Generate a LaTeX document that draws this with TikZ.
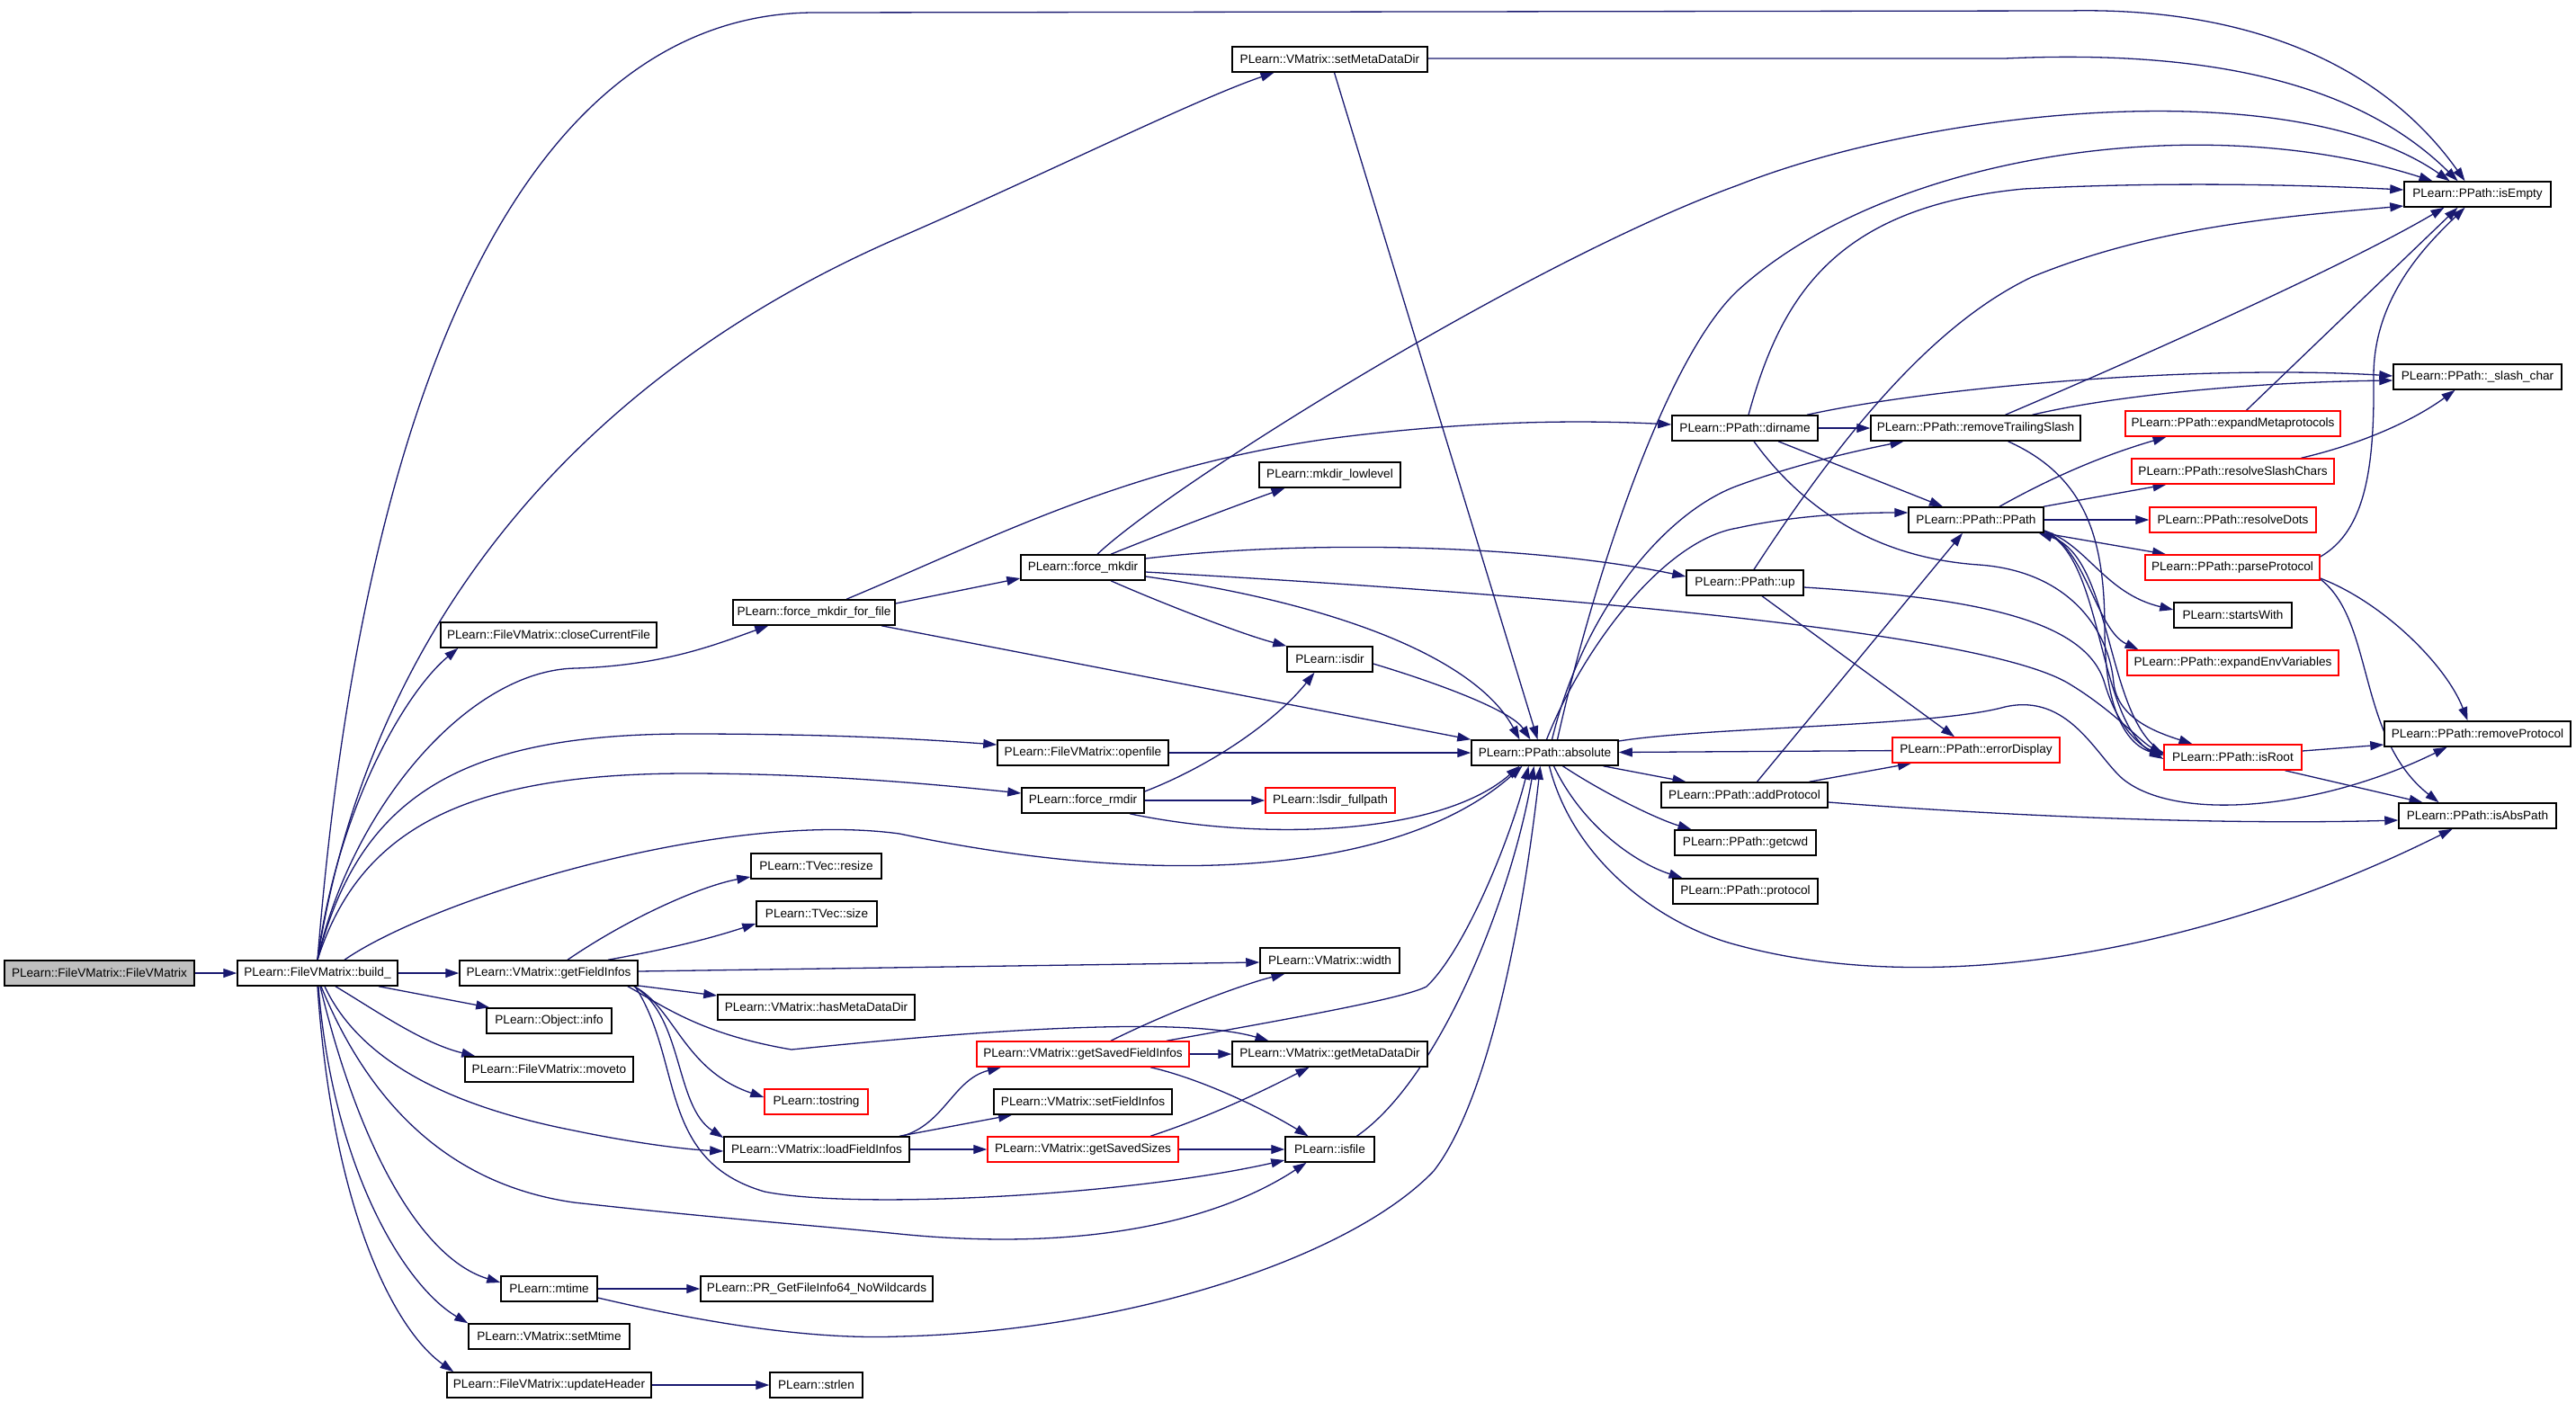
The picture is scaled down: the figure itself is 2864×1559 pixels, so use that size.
\documentclass[tikz,border=0pt]{standalone}
\usepackage{fontspec}
\setmainfont{Liberation Sans}
\usetikzlibrary{arrows.meta}
\definecolor{edgeblue}{RGB}{25,25,112}
\definecolor{boxgray}{RGB}{191,191,191}
\pgfdeclarelayer{bg}
\pgfsetlayers{bg,main}
\begin{document}
\begin{tikzpicture}[x=1pt,y=-1pt,
  box/.style={draw=black, line width=1.5pt, fill=white, minimum height=28pt, inner sep=0pt,
              font=\fontsize{13.6}{15}\selectfont, text=black},
  redbox/.style={box, draw=red},
  graybox/.style={box, fill=boxgray},
  edge/.style={draw=edgeblue, line width=1.3pt, -{Triangle[length=15pt,width=10pt]}}]
\useasboundingbox (0,0) rectangle (2864,1559);

% column 0/1
\node[graybox, minimum width=211pt] (fvm) at (110.5,1082) {PLearn::FileVMatrix::FileVMatrix};
\node[box, minimum width=178pt] (build) at (353,1082) {PLearn::FileVMatrix::build\_};
% column 2
\node[box, minimum width=198pt] (gfi) at (610,1082) {PLearn::VMatrix::getFieldInfos};
\node[box, minimum width=240pt] (ccf) at (610,706) {PLearn::FileVMatrix::closeCurrentFile};
\node[box, minimum width=139pt] (info) at (610.5,1135) {PLearn::Object::info};
\node[box, minimum width=187pt] (moveto) at (610.5,1189) {PLearn::FileVMatrix::moveto};
\node[box, minimum width=107pt] (mtime) at (610.5,1433) {PLearn::mtime};
\node[box, minimum width=179pt] (setmtime) at (610.5,1486) {PLearn::VMatrix::setMtime};
\node[box, minimum width=227pt] (uh) at (610.5,1540) {PLearn::FileVMatrix::updateHeader};
% column 3
\node[box, minimum width=180pt] (fmff) at (905,681) {PLearn::force\_mkdir\_for\_file};
\node[box, minimum width=145pt] (resize) at (907.5,963) {PLearn::TVec::resize};
\node[box, minimum width=134pt] (tsize) at (908,1016) {PLearn::TVec::size};
\node[box, minimum width=219pt] (hmdd) at (907.5,1120) {PLearn::VMatrix::hasMetaDataDir};
\node[redbox, minimum width=115pt] (tostr) at (907.5,1225) {PLearn::tostring};
\node[box, minimum width=206pt] (lfi) at (908,1278) {PLearn::VMatrix::loadFieldInfos};
\node[box, minimum width=258pt] (prget) at (908,1433) {PLearn::PR\_GetFileInfo64\_NoWildcards};
\node[box, minimum width=103pt] (strlen) at (907.5,1540) {PLearn::strlen};
% column 4
\node[box, minimum width=138pt] (fm) at (1204,631) {PLearn::force\_mkdir};
\node[box, minimum width=190pt] (openfile) at (1204,837) {PLearn::FileVMatrix::openfile};
\node[box, minimum width=136pt] (frm) at (1204,890) {PLearn::force\_rmdir};
\node[redbox, minimum width=236pt] (gsfi) at (1204,1172) {PLearn::VMatrix::getSavedFieldInfos};
\node[box, minimum width=198pt] (sfi) at (1204,1225) {PLearn::VMatrix::setFieldInfos};
\node[redbox, minimum width=212pt] (gss) at (1204,1278) {PLearn::VMatrix::getSavedSizes};
% column 5
\node[box, minimum width=217pt] (smd) at (1478.5,66) {PLearn::VMatrix::setMetaDataDir};
\node[box, minimum width=157pt] (mkl) at (1478.5,528) {PLearn::mkdir\_lowlevel};
\node[box, minimum width=95pt] (isdir) at (1478.5,733) {PLearn::isdir};
\node[redbox, minimum width=144pt] (lsd) at (1479,890) {PLearn::lsdir\_fullpath};
\node[box, minimum width=155pt] (vwidth) at (1478.5,1068) {PLearn::VMatrix::width};
\node[box, minimum width=217pt] (gmdd) at (1478.5,1172) {PLearn::VMatrix::getMetaDataDir};
\node[box, minimum width=99pt] (isfile) at (1478.5,1278) {PLearn::isfile};
% column 6
\node[box, minimum width=163pt] (absol) at (1717.5,837) {PLearn::PPath::absolute};
% column 7
\node[box, minimum width=162pt] (dirname) at (1940,476) {PLearn::PPath::dirname};
\node[box, minimum width=130pt] (ppup) at (1940,648) {PLearn::PPath::up};
\node[box, minimum width=185pt] (ap) at (1939.5,884) {PLearn::PPath::addProtocol};
\node[box, minimum width=157pt] (getcwd) at (1940.5,937) {PLearn::PPath::getcwd};
\node[box, minimum width=161pt] (protocol) at (1940.5,991) {PLearn::PPath::protocol};
% column 8
\node[box, minimum width=233pt] (rts) at (2196.5,476) {PLearn::PPath::removeTrailingSlash};
\node[box, minimum width=150pt] (ppath) at (2197,578) {PLearn::PPath::PPath};
\node[redbox, minimum width=186pt] (ed) at (2197,834) {PLearn::PPath::errorDisplay};
% column 9
\node[redbox, minimum width=239pt] (emp) at (2482.5,471) {PLearn::PPath::expandMetaprotocols};
\node[redbox, minimum width=225pt] (rsc) at (2482.5,524) {PLearn::PPath::resolveSlashChars};
\node[redbox, minimum width=185pt] (rdots) at (2482.5,578) {PLearn::PPath::resolveDots};
\node[redbox, minimum width=194pt] (pp) at (2482,631) {PLearn::PPath::parseProtocol};
\node[box, minimum width=131pt] (sw) at (2482.5,684) {PLearn::startsWith};
\node[redbox, minimum width=235pt] (eev) at (2482.5,737) {PLearn::PPath::expandEnvVariables};
\node[redbox, minimum width=153pt] (isroot) at (2482.5,842) {PLearn::PPath::isRoot};
% column 10
\node[box, minimum width=163pt] (isempty) at (2754.5,216) {PLearn::PPath::isEmpty};
\node[box, minimum width=187pt] (sc) at (2754.5,419) {PLearn::PPath::\_slash\_char};
\node[box, minimum width=207pt] (rp) at (2754.5,816) {PLearn::PPath::removeProtocol};
\node[box, minimum width=175pt] (iap) at (2754.5,907) {PLearn::PPath::isAbsPath};

\begin{pgfonlayer}{bg}
\fill[white] (0,0) rectangle (2864,1559);
\draw[edge] (fvm) -- (build);
% build_
\draw[edge] (build.north) .. controls (410,350) and (620,14) .. (906,14) -- (2300,12) .. controls (2480,8) and (2640,60) .. ([xshift=-14pt]isempty.north);
\draw[edge] (build.north) .. controls (410,700) and (640,420) .. (1000,264) .. controls (1150,199) and (1330,110) .. ([xshift=-62pt]smd.south);
\draw[edge] (build.north) .. controls (375,900) and (450,770) .. ([xshift=20pt]ccf.south west);
\draw[edge] (build.north) .. controls (390,900) and (520,745) .. (640,743) .. controls (740,740) and (800,715) .. ([xshift=40pt]fmff.south west);
\draw[edge] (build.north) .. controls (400,880) and (520,816) .. (765,816) .. controls (900,816) and (1000,820) .. ([yshift=9pt]openfile.west);
\draw[edge] (build.north) .. controls (400,920) and (520,860) .. (765,860) .. controls (900,860) and (1020,870) .. ([yshift=8pt]frm.west);
\draw[edge] ([xshift=30pt]build.north) .. controls (480,1000) and (800,900) .. (1000,927) .. controls (1300,990) and (1560,970) .. ([xshift=-25pt]absol.south);
\draw[edge] (build) -- (gfi);
\draw[edge] ([xshift=68pt]build.south) -- ([xshift=4pt]info.north west);
\draw[edge] ([xshift=20pt]build.south) .. controls (420,1125) and (470,1160) .. ([xshift=12pt]moveto.north west);
\draw[edge] ([xshift=8pt]build.south) .. controls (400,1180) and (500,1230) .. (638,1257) .. controls (700,1270) and (760,1278) .. ([yshift=-2pt]lfi.west);
\draw[edge] ([xshift=4pt]build.south) .. controls (420,1250) and (520,1320) .. (638,1337) .. controls (800,1355) and (900,1362) .. (1000,1372) .. controls (1200,1392) and (1350,1360) .. ([xshift=-26pt]isfile.south);
\draw[edge] ([xshift=3pt]build.south) .. controls (400,1280) and (470,1400) .. ([yshift=7pt]mtime.west);
\draw[edge] ([xshift=1pt]build.south) .. controls (370,1300) and (450,1430) .. (setmtime.north west);
\draw[edge] (build.south) .. controls (370,1350) and (440,1480) .. ([xshift=8pt]uh.north west);
% getFieldInfos
\draw[edge] ([xshift=21pt]gfi.north) .. controls (700,1020) and (780,985) .. ([yshift=-12pt]resize.west);
\draw[edge] ([xshift=66pt]gfi.north) .. controls (760,1052) and (800,1040) .. ([yshift=-11pt]tsize.west);
\draw[edge] ([yshift=2pt]gfi.east) -- ([yshift=-2pt]vwidth.west);
\draw[edge] ([yshift=-14pt]gfi.east) -- ([yshift=13pt]hmdd.west);
\draw[edge] ([xshift=88pt]gfi.south) .. controls (740,1120) and (780,1150) .. (880,1167) .. controls (1000,1155) and (1300,1125) .. ([xshift=-68pt]gmdd.north);
\draw[edge] ([xshift=95pt]gfi.south) .. controls (750,1120) and (760,1190) .. ([yshift=5pt]tostr.west);
\draw[edge] ([xshift=95pt]gfi.south) .. controls (760,1130) and (750,1230) .. ([yshift=13pt]lfi.west);
\draw[edge] ([xshift=96pt]gfi.south) .. controls (760,1180) and (730,1290) .. (850,1325) .. controls (950,1345) and (1250,1330) .. ([yshift=-12pt]isfile.west);
% loadFieldInfos
\draw[edge] ([xshift=95pt]lfi.north) .. controls (1050,1250) and (1060,1200) .. ([xshift=-91pt]gsfi.south);
\draw[edge] ([xshift=92pt]lfi.north) -- ([xshift=-79pt]sfi.south);
\draw[edge] (lfi) -- (gss);
% getSavedFieldInfos
\draw[edge] ([xshift=31pt]gsfi.north) .. controls (1300,1125) and (1380,1095) .. ([xshift=-50pt]vwidth.south);
\draw[edge] ([xshift=93pt]gsfi.north) .. controls (1450,1130) and (1560,1110) .. (1586,1097) .. controls (1630,1055) and (1680,930) .. ([xshift=-18pt]absol.south);
\draw[edge] (gsfi) -- (gmdd);
\draw[edge] ([xshift=75pt]gsfi.south) .. controls (1330,1198) and (1400,1230) .. ([xshift=-24pt]isfile.north);
% getSavedSizes
\draw[edge] ([xshift=75pt]gss.north) .. controls (1350,1240) and (1410,1210) .. ([xshift=-23pt]gmdd.south);
\draw[edge] (gss) -- (isfile);
\draw[edge] ([xshift=30pt]isfile.north) .. controls (1600,1200) and (1680,1000) .. ([xshift=-12pt]absol.south);
% mtime, updateHeader
\draw[edge] (mtime) -- (prget);
\draw[edge] ([yshift=-10pt]mtime.east) .. controls (780,1470) and (900,1490) .. (1000,1486) .. controls (1250,1480) and (1500,1400) .. (1594,1302) .. controls (1650,1230) and (1690,1050) .. ([xshift=-5pt]absol.south);
\draw[edge] (uh) -- (strlen);
% force_mkdir_for_file
\draw[edge] ([yshift=10pt]fmff.east) -- ([yshift=-12pt]fm.west);
\draw[edge] ([xshift=36pt]fmff.north) .. controls (1100,600) and (1250,520) .. (1476,488) .. controls (1650,465) and (1780,468) .. ([yshift=4pt]dirname.west);
\draw[edge] ([xshift=75pt]fmff.south) -- (absol.north west);
% force_mkdir
\draw[edge] ([xshift=31pt]fm.north) .. controls (1300,590) and (1380,560) .. ([xshift=-50pt]mkl.south);
\draw[edge] ([xshift=16pt]fm.north) .. controls (1300,540) and (1700,290) .. (1932,206) .. controls (2150,120) and (2550,80) .. ([xshift=-31pt]isempty.north);
\draw[edge] ([yshift=10pt]fm.east) .. controls (1450,600) and (1700,605) .. ([yshift=7pt]ppup.west);
\draw[edge] ([yshift=-5pt]fm.east) .. controls (1700,660) and (2200,700) .. (2300,760) .. controls (2350,790) and (2380,825) .. ([yshift=4pt]isroot.west);
\draw[edge] ([xshift=31pt]fm.south) .. controls (1290,670) and (1380,705) .. (isdir.north west);
\draw[edge] ([yshift=-10pt]fm.east) .. controls (1480,670) and (1640,730) .. ([xshift=-28pt]absol.north);
\draw[edge] ([yshift=-5pt]isdir.east) .. controls (1600,760) and (1680,790) .. ([xshift=-16pt]absol.north);
% setMetaDataDir
\draw[edge] ([yshift=1pt]smd.east) -- (2229,65) .. controls (2450,55) and (2620,90) .. ([xshift=-22pt]isempty.north);
\draw[edge] ([xshift=5pt]smd.south) -- ([xshift=-8pt]absol.north);
% openfile, force_rmdir
\draw[edge] (openfile) -- (absol);
\draw[edge] ([yshift=10pt]frm.east) .. controls (1350,850) and (1420,800) .. ([xshift=-17pt]isdir.south);
\draw[edge] (frm) -- (lsd);
\draw[edge] ([xshift=52pt]frm.south) .. controls (1400,935) and (1600,930) .. ([xshift=-28pt]absol.south);
% absolute
\draw[edge] ([xshift=14pt]absol.north) .. controls (1770,650) and (1850,400) .. (1932,323) .. controls (2100,170) and (2450,120) .. ([xshift=-50pt]isempty.north);
\draw[edge] ([xshift=8pt]absol.north) .. controls (1760,680) and (1850,570) .. (1932,540) .. controls (2000,515) and (2070,500) .. ([xshift=-80pt]rts.south);
\draw[edge] ([xshift=2pt]absol.north) .. controls (1760,720) and (1850,600) .. (1932,587) .. controls (2000,572) and (2070,570) .. ([yshift=8pt]ppath.west);
\draw[edge] ([xshift=65pt]absol.south) -- ([xshift=-65pt]ap.north);
\draw[edge] ([xshift=20pt]absol.south) .. controls (1780,880) and (1840,910) .. ([xshift=-60pt]getcwd.north);
\draw[edge] ([xshift=10pt]absol.south) .. controls (1760,920) and (1820,960) .. ([xshift=-70pt]protocol.north);
\draw[edge] ([xshift=5pt]absol.south) .. controls (1750,960) and (1850,1030) .. (1932,1051) .. controls (2150,1110) and (2450,1060) .. ([xshift=-28pt]iap.south);
\draw[edge] ([yshift=13pt]absol.east) .. controls (1900,808) and (2150,808) .. (2229,786) .. controls (2300,770) and (2330,840) .. (2360,866) .. controls (2420,915) and (2580,900) .. ([xshift=-34pt]rp.south);
\draw[edge] (ed) -- (absol);
% addProtocol
\draw[edge] ([xshift=14pt]ap.north) -- ([xshift=-15pt]ppath.south);
\draw[edge] ([xshift=72pt]ap.north) -- ([xshift=-72pt]ed.south);
\draw[edge] ([yshift=-8pt]ap.east) .. controls (2200,905) and (2450,918) .. ([yshift=-5pt]iap.west);
% up
\draw[edge] ([xshift=10pt]ppup.north) .. controls (2050,480) and (2150,360) .. (2259,308) .. controls (2400,250) and (2550,240) .. ([yshift=-13pt]isempty.west);
\draw[edge] ([xshift=19pt]ppup.south) -- ([xshift=-24pt]ed.north);
\draw[edge] ([yshift=-5pt]ppup.east) .. controls (2200,665) and (2320,690) .. (2340,760) .. controls (2355,810) and (2380,830) .. ([yshift=3pt]isroot.west);
% dirname
\draw[edge] ([xshift=4pt]dirname.north) .. controls (1980,330) and (2040,230) .. (2250,210) .. controls (2400,202) and (2550,205) .. ([yshift=5pt]isempty.west);
\draw[edge] ([xshift=69pt]dirname.north) .. controls (2150,430) and (2450,405) .. ([yshift=1pt]sc.west);
\draw[edge] (dirname) -- (rts);
\draw[edge] ([xshift=37pt]dirname.south) -- ([xshift=-37pt]ppath.north);
\draw[edge] ([xshift=10pt]dirname.south) .. controls (2000,560) and (2080,620) .. (2200,628) .. controls (2300,635) and (2345,700) .. (2350,760) .. controls (2355,800) and (2400,815) .. ([xshift=-45pt]isroot.north);
% removeTrailingSlash
\draw[edge] ([xshift=33pt]rts.north) .. controls (2350,410) and (2600,300) .. ([xshift=-37pt]isempty.south);
\draw[edge] ([xshift=63pt]rts.north) .. controls (2350,440) and (2500,425) .. ([yshift=-4pt]sc.west);
\draw[edge] ([xshift=36pt]rts.south) .. controls (2320,530) and (2340,600) .. (2340,700) .. controls (2340,800) and (2370,830) .. ([yshift=2pt]isroot.west);
% PPath
\draw[edge] ([xshift=26pt]ppath.north) .. controls (2300,520) and (2360,500) .. ([xshift=-74pt]emp.south);
\draw[edge] ([xshift=75pt]ppath.north) -- ([xshift=-74pt]rsc.south);
\draw[edge] (ppath) -- (rdots);
\draw[edge] ([xshift=75pt]ppath.south) -- ([xshift=-74pt]pp.north);
\draw[edge] ([yshift=-12pt]ppath.east) .. controls (2320,605) and (2340,660) .. ([yshift=6pt]sw.west);
\draw[edge] ([yshift=-12pt]ppath.east) .. controls (2320,610) and (2330,700) .. ([xshift=-105pt]eev.north);
\draw[edge] ([yshift=-13pt]ppath.east) .. controls (2340,620) and (2330,800) .. ([yshift=-2pt]isroot.west);
\draw[edge] ([yshift=5pt]isroot.west) .. controls (2340,800) and (2350,620) .. ([xshift=-6pt]ppath.south east);
% parseProtocol
\draw[edge] ([yshift=12pt]pp.east) .. controls (2630,590) and (2640,520) .. (2639,420) .. controls (2638,330) and (2700,270) .. ([xshift=-14pt]isempty.south);
\draw[edge] ([yshift=-12pt]pp.east) .. controls (2650,670) and (2720,740) .. ([xshift=-11pt]rp.north);
\draw[edge] ([yshift=-13pt]pp.east) .. controls (2640,690) and (2620,820) .. ([xshift=-43pt]iap.north);
% isRoot
\draw[edge] ([yshift=7pt]isroot.east) -- ([yshift=-12pt]rp.west);
\draw[edge] ([xshift=58pt]isroot.south) -- ([xshift=-61pt]iap.north);
% others
\draw[edge] ([xshift=15pt]emp.north) -- ([xshift=-22pt]isempty.south);
\draw[edge] ([xshift=76pt]rsc.north) .. controls (2620,495) and (2680,470) .. ([xshift=-25pt]sc.south);
\end{pgfonlayer}
\end{tikzpicture}
\end{document}
